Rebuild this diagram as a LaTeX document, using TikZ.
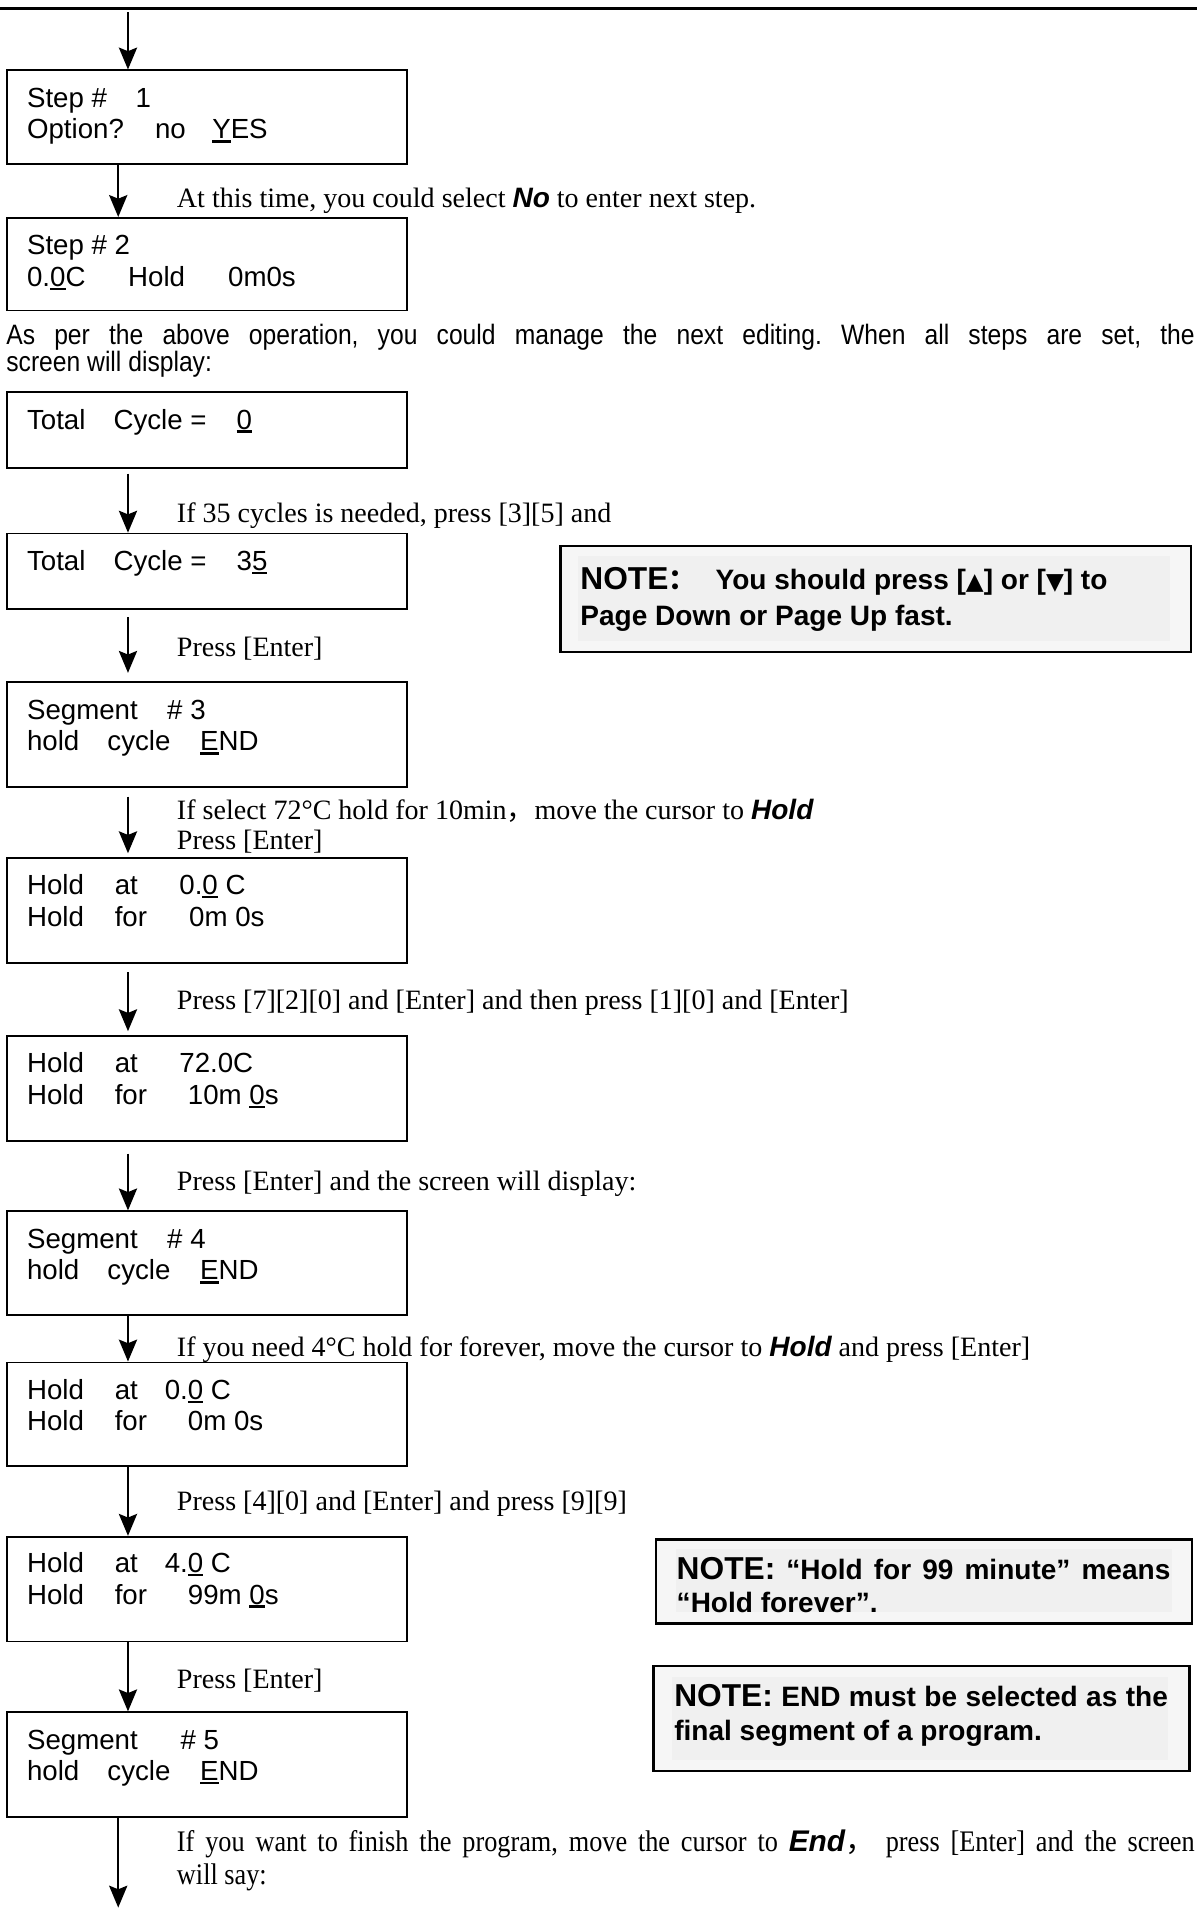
\documentclass[tikz,border=0pt]{standalone}
\usepackage{fontspec}
\setmainfont{Liberation Serif}
\setsansfont{Liberation Sans}
\newfontfamily\boxfont{Liberation Sans}
\newfontfamily\nsans[FakeStretch=0.88]{Liberation Sans}
\newfontfamily\nserif[FakeStretch=0.88]{Liberation Serif}
\newfontfamily\cjk{Noto Sans CJK SC}
\newfontfamily\dvs{DejaVu Sans}
\usetikzlibrary{arrows.meta,calc}
\newcommand\ulc[1]{\setbox0\hbox{#1}\rlap{\rule[-3pt]{\wd0}{2pt}}#1}
\newcommand\putat[2]{\rlap{\hspace*{#1pt}#2}}
\newcommand\bi[1]{{\sffamily\bfseries\itshape #1}}
\newcommand\tri[1]{{\dvs\fontsize{19}{19}\selectfont #1}}
\tikzset{
  lcd/.style={draw, line width=1.5pt, minimum width=328pt, anchor=north west, inner sep=0pt},
  lt/.style={anchor=base west, inner sep=0pt, font=\fontsize{22.7}{26}\boxfont},
  st/.style={anchor=base west, inner sep=0pt, font=\fontsize{23}{27}\selectfont},
  arr/.style={line width=1.4pt, -{Stealth[length=18pt,width=15pt,inset=3pt]}},
  notebox/.style={draw, line width=2pt, fill=gray!7, anchor=north west, inner sep=0pt},
  noteinner/.style={fill=gray!12, anchor=north west, inner sep=0pt, draw=none},
  nt/.style={anchor=base west, inner sep=0pt, font=\fontsize{23}{29}\sffamily\bfseries},
}
\begin{document}
\frenchspacing
\begin{tikzpicture}[x=1pt,y=1pt]
\useasboundingbox (0,0) rectangle (982,-1567);
% top rule
\coordinate (tl) at (0,-7);
\coordinate (tr) at (982,-7);
\draw[line width=2.5pt] (tl) -- (tr);
\coordinate (ax) at (105,0);
\coordinate (bx) at (97,0);

% LCD boxes
\node[lcd, minimum height=77pt] (b1) at (5,-57) {};
\node[lcd, minimum height=76pt] (b2) at (5,-178) {};
\node[lcd, minimum height=62pt] (b3) at (5,-321) {};
\node[lcd, minimum height=62pt] (b4) at (5,-437) {};
\node[lcd, minimum height=86pt] (b5) at (5,-559) {};
\node[lcd, minimum height=86pt] (b6) at (5,-703) {};
\node[lcd, minimum height=86pt] (b7) at (5,-849) {};
\node[lcd, minimum height=85pt] (b8) at (5,-993) {};
\node[lcd, minimum height=85pt] (b9) at (5,-1117) {};
\node[lcd, minimum height=86pt] (b10) at (5,-1260) {};
\node[lcd, minimum height=86pt] (b11) at (5,-1404) {};

% box texts
\node[lt] (t1a) at (22,-88) {\putat{0}{Step \#}\hspace*{89pt}1};
\node[lt] (t1b) at (22,-114) {\putat{0}{Option?}\putat{105}{no}\hspace*{152pt}\ulc{Y}ES};
\node[lt] (t2a) at (22,-209) {Step \# 2};
\node[lt] (t2b) at (22,-235) {\putat{0}{0.\ulc{0}C}\putat{83}{Hold}\hspace*{165pt}0m0s};
\node[lt] (t3a) at (22,-352) {\putat{0}{Total}\putat{71}{Cycle =}\hspace*{172pt}\ulc{0}};
\node[lt] (t4a) at (22,-468) {\putat{0}{Total}\putat{71}{Cycle =}\hspace*{172pt}3\ulc{5}};
\node[lt] (t5a) at (22,-590) {\putat{0}{Segment}\hspace*{115pt}\# 3};
\node[lt] (t5b) at (22,-616) {\putat{0}{hold}\putat{66}{cycle}\hspace*{142pt}\ulc{E}ND};
\node[lt] (t6a) at (22,-734) {\putat{0}{Hold}\putat{72}{at}\hspace*{125pt}0.\ulc{0} C};
\node[lt] (t6b) at (22,-760) {\putat{0}{Hold}\putat{72}{for}\hspace*{133pt}0m 0s};
\node[lt] (t7a) at (22,-880) {\putat{0}{Hold}\putat{72}{at}\hspace*{125pt}72.0C};
\node[lt] (t7b) at (22,-906) {\putat{0}{Hold}\putat{72}{for}\hspace*{132pt}10m \ulc{0}s};
\node[lt] (t8a) at (22,-1024) {\putat{0}{Segment}\hspace*{115pt}\# 4};
\node[lt] (t8b) at (22,-1050) {\putat{0}{hold}\putat{66}{cycle}\hspace*{142pt}\ulc{E}ND};
\node[lt] (t9a) at (22,-1148) {\putat{0}{Hold}\putat{72}{at}\hspace*{113pt}0.\ulc{0} C};
\node[lt] (t9b) at (22,-1174) {\putat{0}{Hold}\putat{72}{for}\hspace*{132pt}0m 0s};
\node[lt] (t10a) at (22,-1290) {\putat{0}{Hold}\putat{72}{at}\hspace*{113pt}4.\ulc{0} C};
\node[lt] (t10b) at (22,-1316) {\putat{0}{Hold}\putat{72}{for}\hspace*{132pt}99m \ulc{0}s};
\node[lt] (t11a) at (22,-1435) {\putat{0}{Segment}\hspace*{126pt}\# 5};
\node[lt] (t11b) at (22,-1461) {\putat{0}{hold}\putat{66}{cycle}\hspace*{142pt}\ulc{E}ND};

% instruction texts
\node[st] (s1) at (145,-170) {At this time, you could select \bi{No} to enter next step.};
\node[anchor=base west, inner sep=0pt, font=\fontsize{23}{22}\nsans] (p1) at (5,-283)
  {\makebox[975pt][s]{As per the above operation, you could manage the next editing. When all steps are set, the}};
\node[anchor=base west, inner sep=0pt, font=\fontsize{23}{22}\nsans] (p2) at (5,-305) {screen will display:};
\node[st] (s2) at (145,-429) {If 35 cycles is needed, press [3][5] and};
\node[st] (s3) at (145,-539) {Press [Enter]};
\node[st] (s4) at (145,-672) {If select 72°C hold for 10min{\cjk ，}move the cursor to \bi{Hold}};
\node[st] (s5) at (145,-697) {Press [Enter]};
\node[st] (s6) at (145,-828) {Press [7][2][0] and [Enter] and then press [1][0] and [Enter]};
\node[st] (s7) at (145,-977) {Press [Enter] and the screen will display:};
\node[st] (s8) at (145,-1113) {If you need 4°C hold for forever, move the cursor to \bi{Hold} and press [Enter]};
\node[st] (s9) at (145,-1239) {Press [4][0] and [Enter] and press [9][9]};
\node[st] (s10) at (145,-1385) {Press [Enter]};
\node[anchor=base west, inner sep=0pt, font=\fontsize{24.5}{27}\nserif] (s11) at (145,-1519)
  {\makebox[835pt][s]{If you want to finish the program, move the cursor to \bi{End}{\cjk ，}\ press [Enter] and the screen}};
\node[anchor=base west, inner sep=0pt, font=\fontsize{24.5}{27}\nserif] (s12) at (145,-1546) {will say:};

% notes
\node[notebox, minimum width=517pt, minimum height=87pt] (n1) at (459,-447) {};
\node[noteinner, minimum width=486pt, minimum height=70pt] (n1i) at (474,-456) {};
\node[nt] (n1a) at (476,-484) {\putat{0}{{\fontsize{26}{29}\selectfont NOTE}{\cjk ：}}\hspace*{111pt}You should press [\tri{▲}] or [\tri{▼}] to};
\node[nt] (n1b) at (476,-513) {Page Down or Page Up fast.};

\node[notebox, minimum width=440pt, minimum height=69pt] (n2) at (537,-1262) {};
\node[noteinner, minimum width=407pt, minimum height=51pt] (n2i) at (554,-1271) {};
\node[nt] (n2a) at (555,-1296) {\makebox[405pt][s]{{\fontsize{26}{29}\selectfont NOTE:} “Hold for 99 minute” means}};
\node[nt] (n2b) at (555,-1323) {“Hold forever”.};

\node[notebox, minimum width=440pt, minimum height=86pt] (n3) at (535,-1366) {};
\node[noteinner, minimum width=407pt, minimum height=68pt] (n3i) at (551,-1376) {};
\node[nt] (n3a) at (553,-1400) {\makebox[405pt][s]{{\fontsize{26}{29}\selectfont NOTE:} END must be selected as the}};
\node[nt] (n3b) at (553,-1428) {final segment of a program.};

% arrows
\coordinate (s0) at (105,-10);
\coordinate (e1) at (97,-1565);
\draw[arr] (s0) -- (b1.north -| ax);
\draw[arr] (b1.south -| bx) -- (b2.north -| bx);
\draw[arr, shorten <=4pt] (b3.south -| ax) -- (b4.north -| ax);
\draw[arr, shorten <=6pt, shorten >=7pt] (b4.south -| ax) -- (b5.north -| ax);
\draw[arr, shorten <=7pt, shorten >=3pt] (b5.south -| ax) -- (b6.north -| ax);
\draw[arr, shorten <=7pt, shorten >=3pt] (b6.south -| ax) -- (b7.north -| ax);
\draw[arr, shorten <=10pt] (b7.south -| ax) -- (b8.north -| ax);
\draw[arr] (b8.south -| ax) -- (b9.north -| ax);
\draw[arr] (b9.south -| ax) -- (b10.north -| ax);
\draw[arr] (b10.south -| ax) -- (b11.north -| ax);
\draw[arr] (b11.south -| bx) -- (e1);
\end{tikzpicture}
\end{document}
